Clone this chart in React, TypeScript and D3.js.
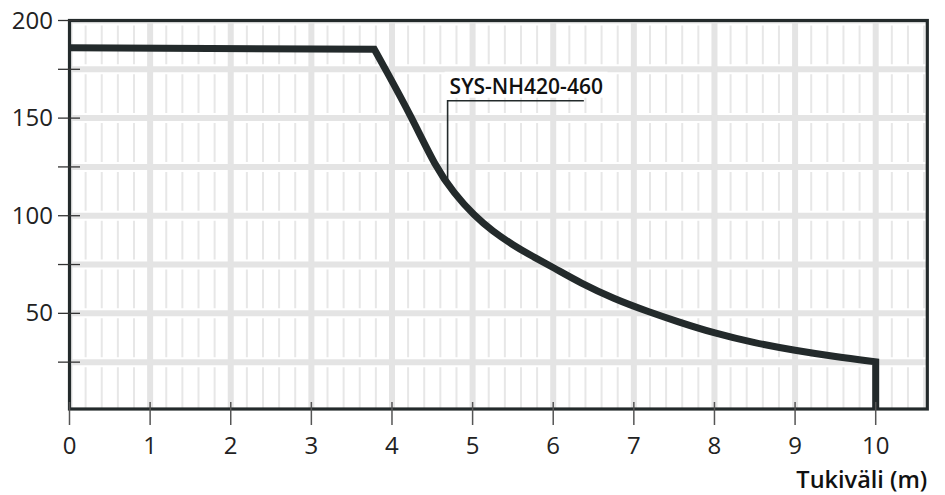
import React from 'react';
import * as d3 from 'd3';

// ---- data ----
const xTickValues = [0, 1, 2, 3, 4, 5, 6, 7, 8, 9, 10];
const yLabelTicks = [50, 100, 150, 200];
const yMinorTicks = [25, 75, 125, 175];
const flatX = [0, 3.78];
const flatY = [186, 185.3];
const curveX = [3.78, 3.92, 4.25, 4.54, 4.77, 5.02, 5.25, 5.5, 5.75, 6.0, 6.34, 6.75, 7.17, 7.54, 8.0, 8.5, 9.0, 9.5, 10.0];
const curveY = [185.3, 175, 150, 125, 111.5, 100, 92, 85, 79, 73.5, 65.5, 57.5, 51, 45.8, 39.8, 34.8, 31, 27.8, 25.2];
const endX = 10.0;
const seriesName = 'SYS-NH420-460';
const xTitle = 'Tukiväli (m)';
// annotation anchors (data coords)
const annotX = 4.69;
const annotLabelY = 162.5;
const annotEndX = 6.38;
const annotPointY = 117;

const W = 945;
const H = 495;
const FONT = "'Open Sans', 'Noto Sans', sans-serif";
const DARK = '#232a2b';
const GRID = '#e4e4e4';

export default function App() {
  const x = d3.scaleLinear().domain([0, 10.64]).range([69.5, 927.3]);
  const y = d3.scaleLinear().domain([1, 200]).range([409, 20.5]);
  const [x0, x1] = x.range();
  const [yb, yt] = y.range();

  const minorV = d3.range(0, 10.64, 0.2).filter((v) => Math.abs(v - Math.round(v)) > 0.01);
  const majorV = d3.range(0, 11, 1);
  const hLines = [...yMinorTicks, ...yLabelTicks].sort((a, b) => a - b);

  const flatPts: [number, number][] = flatX.map((v, i) => [x(v), y(flatY[i])]);
  const curvePts: [number, number][] = curveX.map((v, i) => [x(v), y(curveY[i])]);
  const curveD = d3.line().curve(d3.curveBasis)(curvePts) || '';
  const d =
    `M${flatPts[0][0]},${flatPts[0][1]}L` +
    curveD.slice(1) +
    `L${x(endX)},${y(1)}`;

  return (
    <svg width={W} height={H} style={{ position: 'absolute', left: 0, top: 0, background: '#fff' }}>
      <defs>
        <clipPath id="plot">
          <rect x={x0} y={yt} width={x1 - x0} height={yb - yt} />
        </clipPath>
      </defs>
      <g clipPath="url(#plot)">
        {minorV.map((v) => (
          <line key={'mv' + v} x1={x(v)} x2={x(v)} y1={yt} y2={yb} stroke="#e7e7e7" strokeWidth={2} />
        ))}
        {hLines.map((v) => (
          <line key={'hw' + v} x1={x0} x2={x1} y1={y(v)} y2={y(v)} stroke="#fff" strokeWidth={10} />
        ))}
        {hLines.map((v) => (
          <line key={'h' + v} x1={x0} x2={x1} y1={y(v)} y2={y(v)} stroke={GRID} strokeWidth={6} />
        ))}
        {majorV.map((v) => (
          <line key={'MV' + v} x1={x(v)} x2={x(v)} y1={yt} y2={yb} stroke={GRID} strokeWidth={6} />
        ))}
      </g>

      {/* annotation */}
      <rect x={x(annotX) - 3} y={y(annotLabelY) - 22} width={163} height={26} fill="#fff" />
      <text x={x(annotX) + 2} y={y(annotLabelY)} fontFamily={FONT} fontWeight={600} fontSize={21} fill="#111">
        {seriesName}
      </text>
      <path
        d={`M${x(annotEndX)},${y(annotLabelY) + 7}H${x(annotX)}V${y(annotPointY)}`}
        fill="none"
        stroke={DARK}
        strokeWidth={1.6}
      />

      {/* series line */}
      <path d={d} fill="none" stroke={DARK} strokeWidth={7} strokeLinejoin="miter" strokeLinecap="butt" />

      {/* frame */}
      <rect x={x0} y={yt} width={x1 - x0} height={yb - yt} fill="none" stroke={DARK} strokeWidth={3.2} />

      {/* y ticks */}
      {[...yMinorTicks, ...yLabelTicks].map((v) => (
        <line key={'yt' + v} x1={58} x2={80} y1={y(v)} y2={y(v)} stroke="#333" strokeWidth={1.3} />
      ))}
      {yLabelTicks.map((v) => (
        <text key={'yl' + v} x={53} y={y(v) + 8} textAnchor="end" fontFamily={FONT} fontSize={24} fill="#222">
          {v}
        </text>
      ))}

      {/* x ticks */}
      {xTickValues.map((v) => (
        <line key={'xt' + v} x1={x(v)} x2={x(v)} y1={402} y2={425} stroke="#555" strokeWidth={1.5} />
      ))}
      {xTickValues.map((v) => (
        <text key={'xl' + v} x={x(v)} y={453.5} textAnchor="middle" fontFamily={FONT} fontSize={24} fill="#222">
          {v}
        </text>
      ))}
      <text x={x1} y={488} textAnchor="end" fontFamily={FONT} fontWeight={600} fontSize={23.5} fill="#111">
        {xTitle}
      </text>
    </svg>
  );
}
